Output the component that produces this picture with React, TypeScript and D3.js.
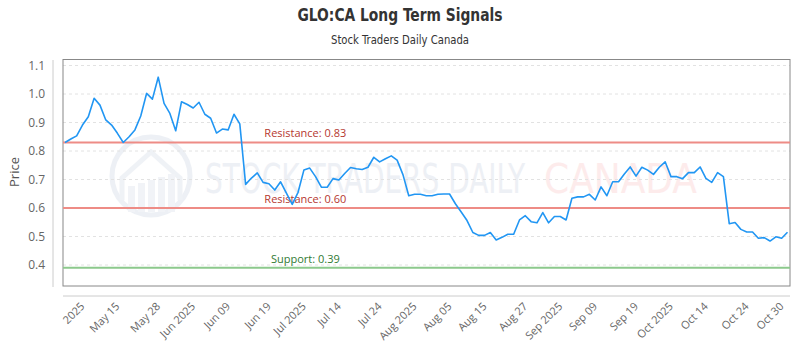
import React from "react";
import * as d3 from "d3";

// closing prices, one per trading day (May -> Oct 30 2025)
const prices = [
  0.830, 0.842, 0.853, 0.891, 0.920, 0.985, 0.961, 0.909, 0.891, 0.862,
  0.830, 0.850, 0.874, 0.923, 1.002, 0.982, 1.059, 0.967, 0.932, 0.871,
  0.973, 0.963, 0.951, 0.971, 0.929, 0.915, 0.863, 0.877, 0.874, 0.929,
  0.895, 0.683, 0.705, 0.723, 0.690, 0.685, 0.663, 0.692, 0.652, 0.613,
  0.655, 0.733, 0.740, 0.710, 0.673, 0.673, 0.703, 0.698, 0.721, 0.742,
  0.738, 0.735, 0.743, 0.778, 0.762, 0.773, 0.783, 0.768, 0.717, 0.643,
  0.648, 0.648, 0.643, 0.643, 0.648, 0.649, 0.649, 0.615, 0.586, 0.556,
  0.514, 0.504, 0.504, 0.514, 0.488, 0.497, 0.508, 0.508, 0.558, 0.573,
  0.552, 0.548, 0.584, 0.548, 0.570, 0.570, 0.558, 0.634, 0.639, 0.639,
  0.648, 0.628, 0.674, 0.643, 0.692, 0.692, 0.719, 0.744, 0.712, 0.743,
  0.733, 0.718, 0.743, 0.762, 0.710, 0.710, 0.703, 0.724, 0.724, 0.744,
  0.704, 0.690, 0.724, 0.710, 0.545, 0.549, 0.525, 0.516, 0.516, 0.494,
  0.496, 0.484, 0.499, 0.494, 0.515,
];

const tickLabels = [
  "2025", "May 15", "May 28", "Jun 2025", "Jun 09", "Jun 19", "Jul 2025",
  "Jul 14", "Jul 24", "Aug 2025", "Aug 05", "Aug 15", "Aug 27", "Sep 2025",
  "Sep 09", "Sep 19", "Oct 2025", "Oct 14", "Oct 24", "Oct 30",
];
const tickIdx = [4, 10, 17, 23, 29, 36, 42, 48, 55, 61, 67, 73, 80, 86, 92, 99, 105, 111, 118, 124];

const yTicks = [0.4, 0.5, 0.6, 0.7, 0.8, 0.9, 1.0, 1.1];

const levelNames = ["Resistance", "Resistance", "Support"];
const levelValues = [0.83, 0.6, 0.39];

const W = 800, H = 350;
const plot = { left: 63, right: 790, top: 59.5, bottom: 286 };
const font = "'Open Sans', 'DejaVu Sans', sans-serif";
const condensed = "'Liberation Sans Narrow', 'DejaVu Sans Condensed', sans-serif";

export default function App() {
  const x = d3.scaleLinear().domain([0, prices.length - 1]).range([65, 787.5]);
  const y = d3.scaleLinear().domain([0.4, 1.1]).range([265, 65.5]);

  const line = d3.line<number>()
    .x((d, i) => x(i))
    .y(d => y(d));

  const labelX = plot.left + (plot.right - plot.left) / 3;

  return (
    <svg width={W} height={H} style={{ position: "absolute", left: 0, top: 0, background: "#fff" }}>
      {/* title */}
      <text x={400} y={21} textAnchor="middle" fontFamily={condensed} fontWeight="bold" fontSize={17}
        fill="#333" textLength={205} lengthAdjust="spacingAndGlyphs">GLO:CA Long Term Signals</text>
      <text x={400} y={44} textAnchor="middle" fontFamily={condensed} fontSize={12.5}
        fill="#333" textLength={138} lengthAdjust="spacingAndGlyphs">Stock Traders Daily Canada</text>

      {/* watermark */}
      <g opacity={0.55}>
        <circle cx={151} cy={176} r={39} fill="none" stroke="#dfe5ee" strokeWidth={5} />
        <path d="M122,200 L122,178 L151,152 L180,178 L180,200" fill="none" stroke="#e3e8f0" strokeWidth={5} />
        {[128, 138, 148, 158, 168].map((bx, i) => (
          <rect key={i} x={bx} y={186 - i * 3} width={7} height={26 + i * 3} fill="#e6ebf2" />
        ))}
        <text x={205} y={193} fontFamily={condensed} fontSize={40} fill="#dfe4ed"
          textLength={320} lengthAdjust="spacingAndGlyphs">STOCK TRADERS DAILY</text>
        <text x={544} y={193} fontFamily={condensed} fontSize={40} fill="#fcdcdc"
          textLength={153} lengthAdjust="spacingAndGlyphs">CANADA</text>
      </g>

      {/* grid */}
      {yTicks.map(t => (
        <line key={t} x1={plot.left} x2={plot.right} y1={y(t)} y2={y(t)}
          stroke="#e2e2e2" strokeDasharray="3,3" />
      ))}

      {/* plot frame */}
      <rect x={plot.left} y={plot.top} width={plot.right - plot.left} height={plot.bottom - plot.top}
        fill="none" stroke="#888" strokeWidth={1} />

      {/* axes */}
      <line x1={53} x2={53} y1={60} y2={287} stroke="#ccc" />
      <line x1={plot.left} x2={plot.right} y1={296} y2={296} stroke="#ccc" />
      {yTicks.map(t => (
        <text key={t} x={45} y={y(t)} dy="0.35em" textAnchor="end" fontFamily={font}
          fontSize={12} fill="#666">{t.toFixed(1)}</text>
      ))}
      <text transform="translate(19,172) rotate(-90)" textAnchor="middle" fontFamily={font}
        fontSize={13} fill="#555">Price</text>
      {tickIdx.map((idx, i) => (
        <text key={i} transform={`translate(${x(idx) - 3},307) rotate(-45)`} textAnchor="end"
          fontFamily={font} fontSize={11} fill="#666">{tickLabels[i]}</text>
      ))}

      {/* support / resistance */}
      {levelValues.map((v, i) => {
        const isRes = levelNames[i] === "Resistance";
        return (
          <g key={i}>
            <line x1={plot.left} x2={plot.right} y1={y(v)} y2={y(v)}
              stroke={isRes ? "#ee8c86" : "#8cc98c"} strokeWidth={2} />
            <text x={labelX} y={y(v) - 5} textAnchor="middle" fontFamily={font} fontSize={11}
              fill={isRes ? "#b5372f" : "#2f7a32"}>{`${levelNames[i]}: ${v.toFixed(2)}`}</text>
          </g>
        );
      })}

      {/* price line */}
      <path d={line(prices) || ""} fill="none" stroke="#2196f3" strokeWidth={1.6} strokeLinejoin="round" />
    </svg>
  );
}
